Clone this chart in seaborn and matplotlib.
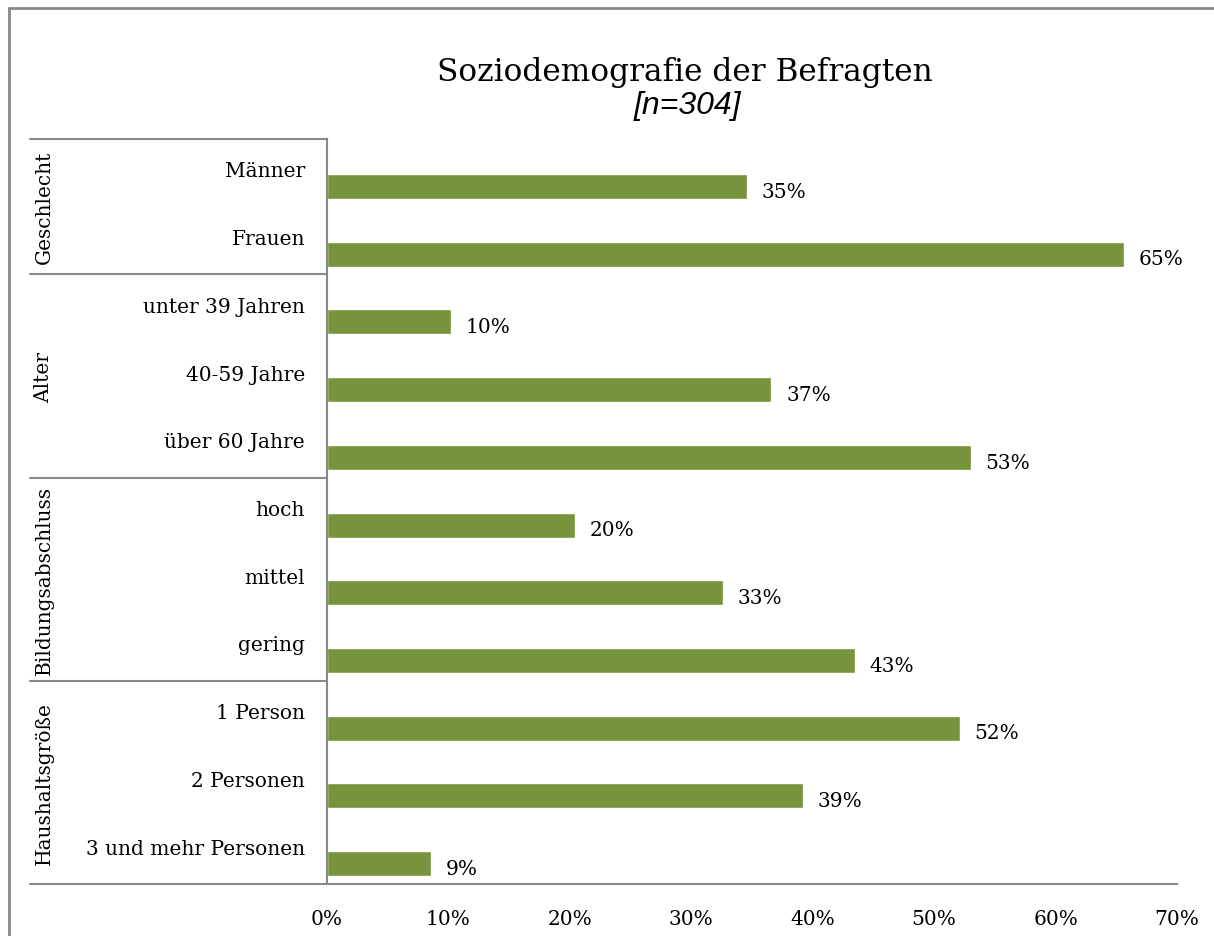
import matplotlib.pyplot as plt
import matplotlib.lines as mlines
import numpy as np
import pandas as pd
import seaborn as sns

categories = ['Männer', 'Frauen',
              'unter 39 Jahren', '40-59 Jahre', 'über 60 Jahre',
              'hoch', 'mittel', 'gering',
              '1 Person', '2 Personen', '3 und mehr Personen']
shares = [0.346, 0.656, 0.102, 0.366, 0.530, 0.204, 0.326, 0.435, 0.521, 0.392, 0.086]
labels = ['35%', '65%', '10%', '37%', '53%', '20%', '33%', '43%', '52%', '39%', '9%']
groups = ['Geschlecht', 'Alter', 'Bildungsabschluss', 'Haushaltsgröße']
group_sizes = [2, 3, 3, 3]

serif = ['DejaVu Serif']
green = '#77933C'
grey = '#888888'
fs = 14.5
shift = 0.2  # bars sit a bit below the middle of their slot

sns.set_style('white')
plt.rcParams['font.family'] = serif
plt.rcParams['text.color'] = 'black'
plt.rcParams['xtick.color'] = 'black'

df = pd.DataFrame({'Kategorie': categories, 'Anteil': shares})

fig = plt.figure(figsize=(12.14, 9.37), dpi=100)
ax = fig.add_axes([327 / 1214, 1 - 885 / 937, 850 / 1214, 745 / 937])
sns.barplot(data=df, y='Kategorie', x='Anteil', color=green, width=0.37,
            saturation=1, ax=ax)

ax.set_xlim(0, 0.7)
ax.set_ylim(len(categories) - 0.5 - shift, -0.5 - shift)
ticks = np.arange(0, 0.71, 0.1)
ax.set_xticks(ticks)
ax.set_xticklabels([f'{int(round(t * 100))}%' for t in ticks], fontsize=fs)
ax.tick_params(axis='x', length=0, pad=18)
ax.set_yticks([])
ax.set_xlabel('')
ax.set_ylabel('')
for side in ['top', 'right']:
    ax.spines[side].set_visible(False)
for side in ['left', 'bottom']:
    ax.spines[side].set_color(grey)
    ax.spines[side].set_linewidth(1.5)

# value labels
for bar, text in zip(ax.patches, labels):
    ax.text(bar.get_width() + 0.012, bar.get_y() + bar.get_height() / 2 + 0.07,
            text, fontsize=fs, ha='left', va='center')

# category labels
ytrans = ax.get_yaxis_transform()
for i, cat in enumerate(categories):
    ax.text(-0.026, i - shift - 0.03, cat, transform=ytrans, fontsize=fs,
            ha='right', va='center')

# group labels and separators
start = 0
bounds = [-0.5]
for name, size in zip(groups, group_sizes):
    center = start + (size - 1) / 2
    ax.text(-0.333, center - shift, name, transform=ytrans, fontsize=fs,
            rotation=90, ha='center', va='center')
    start += size
    bounds.append(start - 0.5)
for b in bounds:
    ax.add_line(mlines.Line2D([-0.349, 0], [b - shift, b - shift], transform=ytrans,
                              color=grey, lw=1.5, clip_on=False))

# title
fig.text(685 / 1214, 1 - 72 / 937, 'Soziodemografie der Befragten',
         fontsize=22.5, ha='center', va='center')
fig.text(687 / 1214, 1 - 106 / 937, '[n=304]', fontsize=23, style='italic',
         family=['Liberation Sans', 'DejaVu Sans'], ha='center', va='center')

# outer chart border
fig.add_artist(mlines.Line2D([9 / 1214, 9 / 1214], [0, 1 - 9 / 937],
                             transform=fig.transFigure, color=grey, lw=2))
fig.add_artist(mlines.Line2D([9 / 1214, 1], [1 - 9 / 937, 1 - 9 / 937],
                             transform=fig.transFigure, color=grey, lw=2))

fig.savefig('out.png', dpi=100)
